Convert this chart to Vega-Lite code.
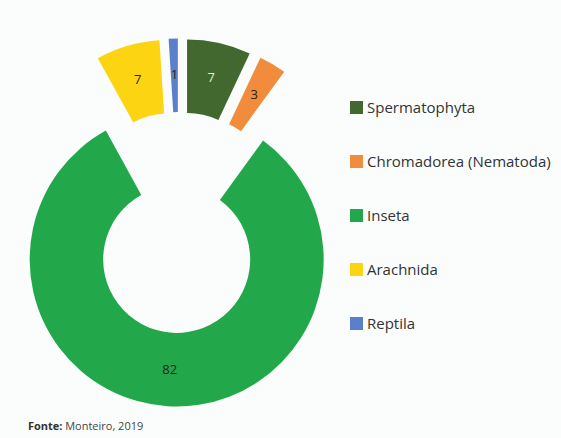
{
  "$schema": "https://vega.github.io/schema/vega-lite/v6.json",
  "width": 302,
  "height": 385,
  "autosize": "none",
  "padding": {"left": 28, "top": 30, "right": 231, "bottom": 23},
  "background": "#fafdfc",
  "title": {
    "text": "Fonte:",
    "subtitle": "\u200b\u00a0\u00a0\u00a0\u00a0\u00a0\u00a0\u00a0\u00a0\u00a0\u00a0\u00a0\u00a0\u00a0Monteiro, 2019",
    "orient": "bottom",
    "anchor": "start",
    "frame": "group",
    "offset": 6,
    "font": "Open Sans",
    "fontSize": 11,
    "fontWeight": "bold",
    "color": "#333333",
    "subtitleFont": "Open Sans",
    "subtitleFontSize": 11,
    "subtitleColor": "#444444",
    "subtitlePadding": -11
  },
  "data": {
    "values": [
      {"category": "Spermatophyta", "value": 7},
      {"category": "Chromadorea (Nematoda)", "value": 3},
      {"category": "Inseta", "value": 82},
      {"category": "Arachnida", "value": 7},
      {"category": "Reptila", "value": 1}
    ]
  },
  "transform": [{"window": [{"op": "row_number", "as": "rank"}]}],
  "layer": [
    {
      "mark": {
        "type": "arc",
        "innerRadius": 73.5,
        "outerRadius": 147,
        "xOffset": {"expr": "37*sin(PI*(datum.value_start+datum.value_end)/100)"},
        "yOffset": {"expr": "-37*cos(PI*(datum.value_start+datum.value_end)/100)"}
      },
      "encoding": {
        "theta": {"field": "value", "type": "quantitative", "stack": true},
        "order": {"field": "rank", "type": "quantitative"},
        "color": {
          "field": "category",
          "type": "nominal",
          "scale": {
            "domain": ["Spermatophyta", "Chromadorea (Nematoda)", "Inseta", "Arachnida", "Reptila"],
            "range": ["#43682f", "#f08c3c", "#22a84b", "#fcd411", "#5b80c9"]
          },
          "legend": {
            "title": null,
            "orient": "none",
            "legendX": 321,
            "legendY": 70,
            "padding": 0,
            "symbolType": "square",
            "symbolSize": 169,
            "symbolStrokeWidth": 0,
            "labelFont": "Open Sans",
            "labelFontSize": 15,
            "labelColor": "#333333",
            "labelOffset": 3,
            "labelLimit": 300,
            "rowPadding": 38
          }
        }
      }
    },
    {
      "mark": {
        "type": "text",
        "radius": 111,
        "font": "Open Sans",
        "fontSize": 13,
        "xOffset": {"expr": "37*sin(PI*(datum.value_start+datum.value_end)/100)"},
        "yOffset": {"expr": "-37*cos(PI*(datum.value_start+datum.value_end)/100)"},
        "fill": {"expr": "datum.category === 'Spermatophyta' ? '#e2ebdc' : '#222222'"}
      },
      "encoding": {
        "theta": {"field": "value", "type": "quantitative", "stack": true},
        "order": {"field": "rank", "type": "quantitative"},
        "text": {"field": "value", "type": "quantitative"}
      }
    }
  ],
  "config": {"view": {"stroke": null}}
}
